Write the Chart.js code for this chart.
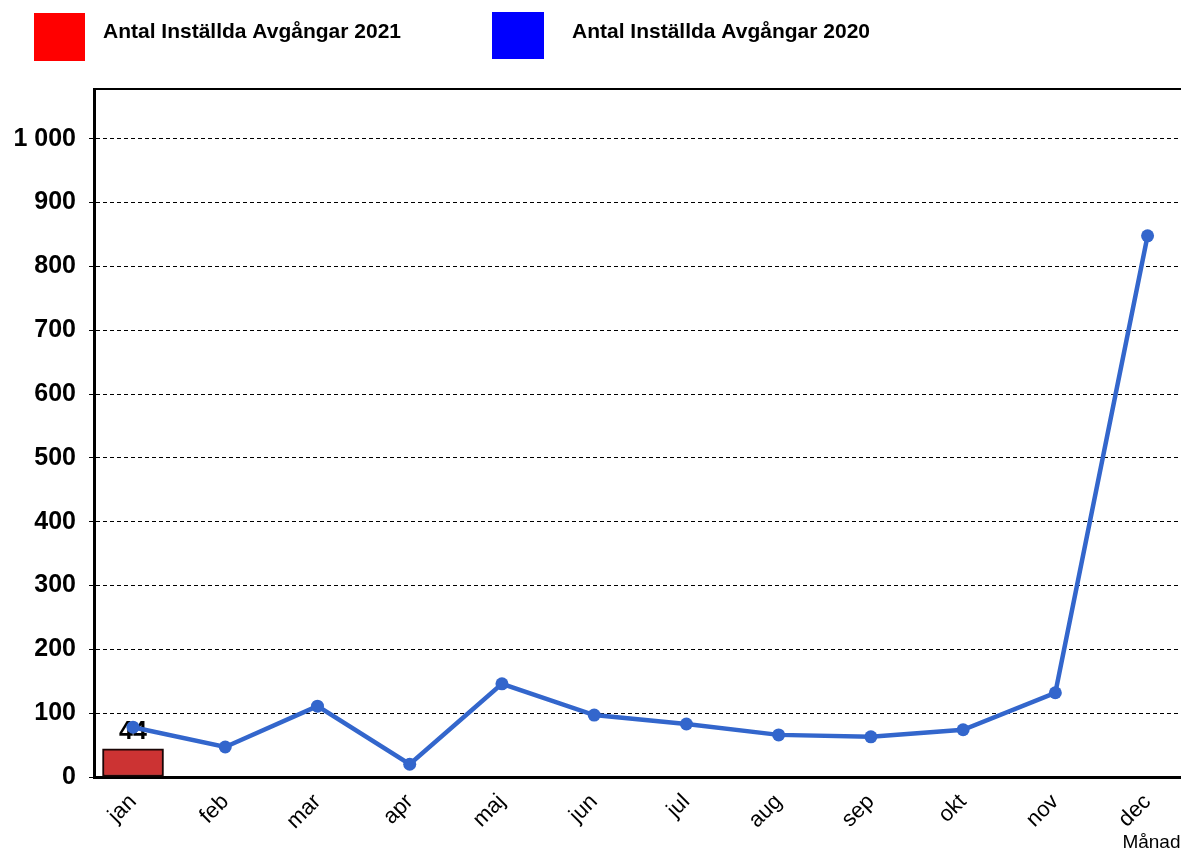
<!DOCTYPE html>
<html><head><meta charset="utf-8">
<script src="https://cdn.jsdelivr.net/npm/chart.js@4/dist/chart.umd.min.js"></script>
<style>html,body{margin:0;padding:0;background:#fff;overflow:hidden}#wrap{width:1187px;height:854px}</style>
</head><body><div id="wrap"><canvas id="c" width="1187" height="854"></canvas></div>
<script>
const months = ['jan','feb','mar','apr','maj','jun','jul','aug','sep','okt','nov','dec'];
const values2021 = [44];
const values2020 = [78, 47, 111, 20, 146, 97, 83, 66, 63, 74, 132, 848];
const seriesNames = ['Antal Inställda Avgångar 2021', 'Antal Inställda Avgångar 2020'];
const legendColors = ['#ff0000', '#0000ff'];
const xTitle = 'Månad';

const FONT = "'Liberation Sans', Arial, sans-serif";
const fmt = v => String(v).replace(/\B(?=(\d{3})+(?!\d))/g, ' ');

const legendPlugin = {
  id: 'fixedLegend',
  afterDraw(chart) {
    const ctx = chart.ctx;
    const items = [
      {box: [34, 13, 51, 48], tx: 103},
      {box: [492, 12, 52, 47], tx: 572}
    ];
    ctx.save();
    ctx.font = 'bold 21px ' + FONT;
    ctx.textBaseline = 'middle';
    ctx.textAlign = 'left';
    items.forEach((it, i) => {
      ctx.fillStyle = legendColors[i];
      ctx.fillRect(...it.box);
      ctx.fillStyle = '#000';
      ctx.fillText(seriesNames[i], it.tx, 32);
    });
    ctx.restore();
  }
};

const barLabelPlugin = {
  id: 'barLabel',
  afterDatasetDraw(chart, args) {
    if (args.meta.type !== 'bar') return;
    const ctx = chart.ctx;
    const ds = chart.data.datasets[args.index];
    ctx.save();
    ctx.font = 'bold 25px ' + FONT;
    ctx.fillStyle = '#000';
    ctx.textAlign = 'center';
    ctx.textBaseline = 'alphabetic';
    args.meta.data.forEach((el, i) => {
      ctx.fillText(fmt(ds.data[i].y), el.x, el.y - 10);
    });
    ctx.restore();
  }
};

new Chart(document.getElementById('c'), {
  type: 'line',
  data: {
    datasets: [
      {
        type: 'bar',
        label: seriesNames[0],
        data: values2021.map((v, i) => ({x: i, y: v})),
        backgroundColor: '#cc3333',
        borderColor: '#1a0505',
        borderWidth: 2,
        borderSkipped: false,
        barThickness: 61,
        order: 1
      },
      {
        type: 'line',
        label: seriesNames[1],
        data: values2020.map((v, i) => ({x: i, y: v})),
        borderColor: '#3366cc',
        backgroundColor: '#3366cc',
        borderWidth: 4.5,
        pointRadius: 6.5,
        pointHoverRadius: 6.5,
        pointBorderWidth: 0,
        pointBackgroundColor: '#3366cc',
        tension: 0,
        fill: false,
        order: 0
      }
    ]
  },
  options: {
    responsive: false,
    animation: false,
    devicePixelRatio: 1,
    layout: {padding: {top: 89, left: 0, right: 0, bottom: 0}},
    plugins: {legend: {display: false}, tooltip: {enabled: false}},
    scales: {
      x: {
        type: 'linear',
        min: -0.423,
        max: 11.357,
        offset: false,
        grid: {display: false},
        border: {display: true, color: '#000', width: 3},
        ticks: {
          stepSize: 1,
          includeBounds: false,
          autoSkip: false,
          minRotation: 45,
          maxRotation: 45,
          padding: 4,
          color: '#000',
          font: {family: FONT, size: 22},
          callback: v => months[v] !== undefined ? months[v] : ''
        },
        title: {
          display: true,
          text: xTitle,
          align: 'end',
          color: '#000',
          padding: 0,
          font: {family: FONT, size: 19}
        },
        afterFit: s => { s.height = 77; s.paddingLeft = 0; s.paddingRight = 6; }
      },
      x2: {
        type: 'linear',
        position: 'top',
        min: -0.423,
        max: 11.357,
        grid: {display: false},
        ticks: {display: false},
        border: {display: true, color: '#000', width: 2},
        afterFit: s => { s.height = 0; s.paddingLeft = 0; s.paddingRight = 0; }
      },
      y: {
        type: 'linear',
        min: 0,
        max: 1078,
        grid: {
          color: '#000',
          lineWidth: 1,
          tickLength: 5,
          tickColor: '#000',
          tickBorderDash: []
        },
        border: {display: true, color: '#000', width: 3, dash: [4, 3]},
        ticks: {
          stepSize: 100,
          includeBounds: false,
          padding: 13,
          color: '#000',
          font: {family: FONT, size: 25, weight: 'bold'},
          callback: v => fmt(v)
        },
        afterFit: s => { s.width = 94; }
      }
    }
  },
  plugins: [barLabelPlugin, legendPlugin]
});
</script>
</body></html>
